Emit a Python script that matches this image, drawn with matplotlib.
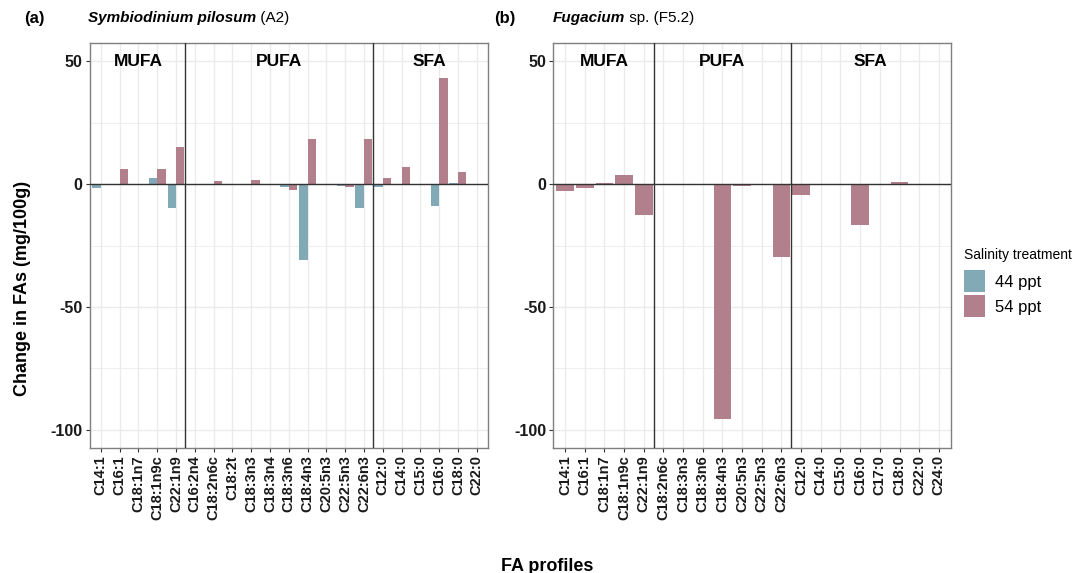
import matplotlib
matplotlib.use("Agg")
import matplotlib.pyplot as plt
import numpy as np
from matplotlib.patches import Patch

plt.rcParams["font.family"] = ["Liberation Sans", "DejaVu Sans"]

# panel (a): Symbiodinium pilosum (A2)
groups_a = ["MUFA", "PUFA", "SFA"]
group_sizes_a = [5, 10, 6]
fa_a = ["C14:1", "C16:1", "C18:1n7", "C18:1n9c", "C22:1n9",
        "C16:2n4", "C18:2n6c", "C18:2t", "C18:3n3", "C18:3n4", "C18:3n6",
        "C18:4n3", "C20:5n3", "C22:5n3", "C22:6n3",
        "C12:0", "C14:0", "C15:0", "C16:0", "C18:0", "C22:0"]
a_44 = [-1.6, 0, 0, 2.6, -9.9,
        0, -0.3, 0, 0, 0, -1.1, -30.7, 0, -0.8, -9.9,
        -1.1, -0.5, 0, -8.9, 0.4, 0]
a_54 = [0, 6.1, 0, 6.0, 15.1,
        0, 1.1, 0, 1.6, 0, -2.3, 18.4, 0, -1.2, 18.2,
        2.6, 6.8, 0, 43.1, 4.7, 0]

# panel (b): Fugacium sp. (F5.2)
groups_b = ["MUFA", "PUFA", "SFA"]
group_sizes_b = [5, 7, 8]
fa_b = ["C14:1", "C16:1", "C18:1n7", "C18:1n9c", "C22:1n9",
        "C18:2n6c", "C18:3n3", "C18:3n6", "C18:4n3", "C20:5n3", "C22:5n3", "C22:6n3",
        "C12:0", "C14:0", "C15:0", "C16:0", "C17:0", "C18:0", "C22:0", "C24:0"]
b_54 = [-2.7, -1.8, 0.4, 3.5, -12.4,
        0, 0, 0, -95.7, -0.8, -0.2, -29.6,
        -4.3, 0, -0.5, -16.5, 0, 0.8, 0, 0]

col_44 = "#82a9b6"
col_54 = "#b2808c"
grid_col = "#ebebeb"
text_col = "#1a1a1a"

fig = plt.figure(figsize=(10.72, 5.73), dpi=100)
ax_a = fig.add_axes([0.0835, 0.2176, 0.3717, 0.7079])
ax_b = fig.add_axes([0.5161, 0.2176, 0.3707, 0.7079])


def style_axes(ax, labels, sizes, groups):
    n = len(labels)
    x = np.arange(n)
    ax.set_xlim(-0.6, n - 0.4)
    ax.set_ylim(-107.5, 57.5)
    ax.set_xticks(x)
    ax.set_xticklabels(labels, rotation=90, fontsize=10.5, fontweight="bold", color=text_col)
    ax.set_yticks([50, 0, -50, -100])
    ax.set_yticklabels(["50", "0", "-50", "-100"], fontsize=11.5, fontweight="bold", color=text_col)
    ax.set_yticks([25, -25, -75], minor=True)
    ax.tick_params(axis="both", which="major", length=3, width=0.8, color="#333333", pad=2)
    ax.tick_params(axis="y", which="minor", length=0)
    ax.grid(which="major", color=grid_col, lw=1.0, zorder=0)
    ax.grid(which="minor", axis="y", color=grid_col, lw=0.6, zorder=0)
    ax.set_axisbelow(True)
    for s in ax.spines.values():
        s.set_color("#7f7f7f")
        s.set_linewidth(1.0)
    ax.axhline(0, color="#333333", lw=1.0, zorder=3)
    edges = np.cumsum(sizes)
    start = 0
    for g, size, e in zip(groups, sizes, edges):
        if e < n:
            ax.axvline(e - 0.5, color="#333333", lw=1.0, zorder=3)
        ax.text(start + (size - 1) / 2, 50, g, ha="center", va="center",
                fontsize=12.5, fontweight="bold", color="black")
        start = e
    return x


x_a = style_axes(ax_a, fa_a, group_sizes_a, groups_a)
ax_a.bar(x_a - 0.225, a_44, width=0.45, color=col_44, edgecolor="none", zorder=2)
ax_a.bar(x_a + 0.225, a_54, width=0.45, color=col_54, edgecolor="none", zorder=2)

x_b = style_axes(ax_b, fa_b, group_sizes_b, groups_b)
ax_b.bar(x_b, b_54, width=0.9, color=col_54, edgecolor="none", zorder=2)

# titles
fig.text(0.032, 0.968, "(a)", ha="center", va="center", fontsize=12, fontweight="bold")
t1 = fig.text(0.082, 0.968, "Symbiodinium pilosum", ha="left", va="center",
              fontsize=11, fontweight="bold", style="italic")
fig.text(0.471, 0.968, "(b)", ha="center", va="center", fontsize=12, fontweight="bold")
t2 = fig.text(0.516, 0.968, "Fugacium", ha="left", va="center",
              fontsize=11, fontweight="bold", style="italic")
ax_a.annotate(" (A2)", xy=(1, 0), xycoords=t1, va="bottom", ha="left",
              fontsize=11, annotation_clip=False)
ax_b.annotate(" sp. (F5.2)", xy=(1, 0), xycoords=t2, va="bottom", ha="left",
              fontsize=11, annotation_clip=False)

fig.text(0.021, 0.497, "Change in FAs (mg/100g)", rotation=90, ha="center", va="center",
         fontsize=13, fontweight="bold")
fig.text(0.51, 0.012, "FA profiles", ha="center", va="center", fontsize=13, fontweight="bold")

handles = [Patch(facecolor=col_44, edgecolor="none", label="44 ppt"),
           Patch(facecolor=col_54, edgecolor="none", label="54 ppt")]
leg = fig.legend(handles=handles, title="Salinity treatment", loc="upper left",
                 bbox_to_anchor=(0.899, 0.568), frameon=False, fontsize=12,
                 title_fontsize=10, handlelength=1.3, handleheight=1.7,
                 handletextpad=0.55, labelspacing=0.15, borderaxespad=0, borderpad=0)
leg._legend_box.align = "left"
leg._legend_box.sep = 6

fig.savefig("out.png", dpi=100)
